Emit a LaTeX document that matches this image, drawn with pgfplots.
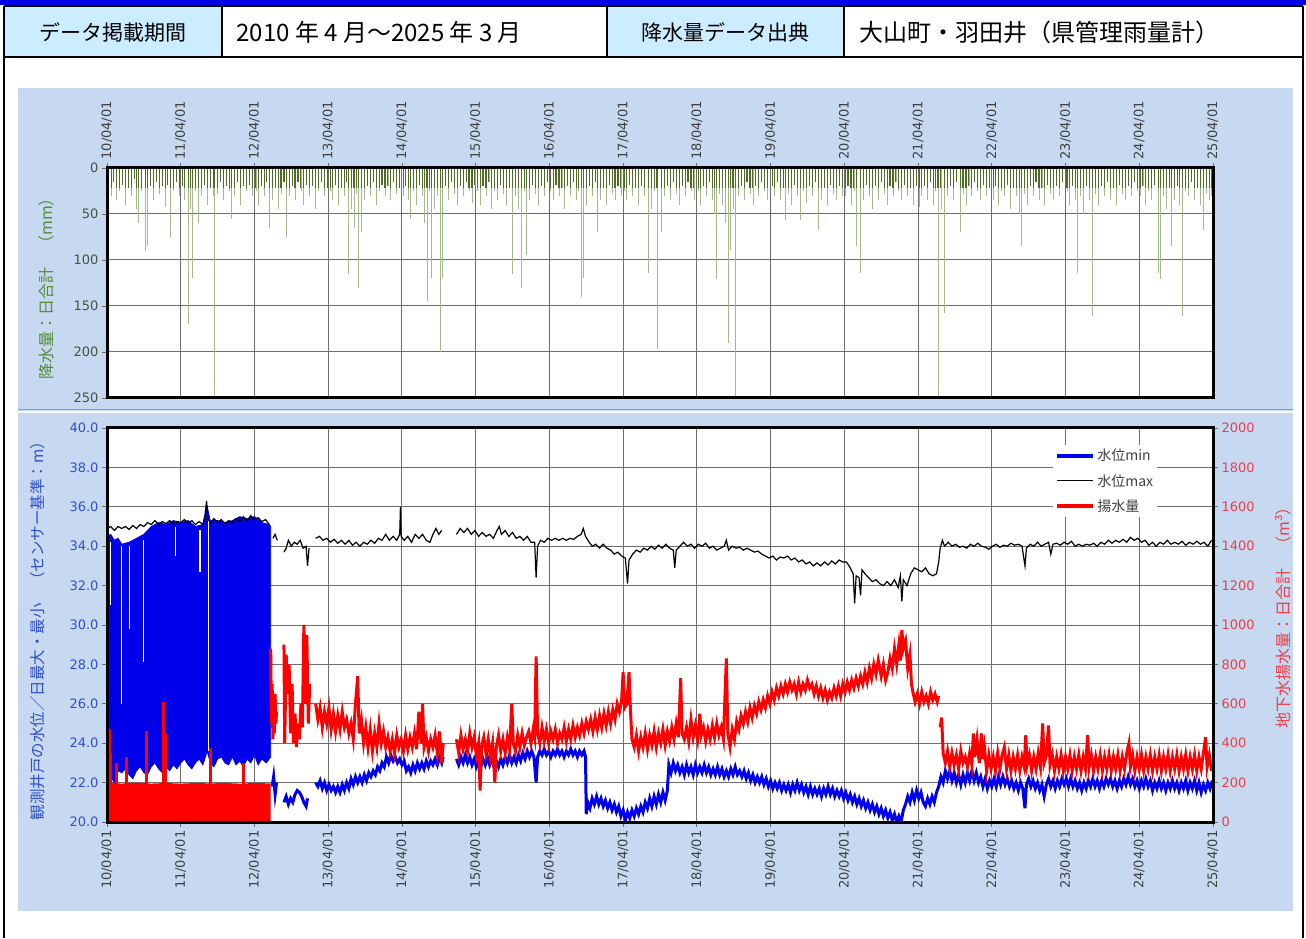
\documentclass[border=0pt]{standalone}
\usepackage{fontspec}
\setmainfont{DejaVu Sans}
\newfontfamily\cjk{Noto Sans CJK JP}
\usepackage{pgfplots}
\usepackage{pgfplotstable}
\pgfplotsset{compat=1.18}
\definecolor{hdrblue}{RGB}{204,236,255}
\definecolor{panel}{RGB}{198,217,240}
\definecolor{topband}{RGB}{0,0,230}
\definecolor{rainlight}{RGB}{165,185,140}
\definecolor{raindark}{RGB}{78,108,36}
\definecolor{gridc}{RGB}{110,110,110}
\definecolor{tickc}{RGB}{64,64,64}
\definecolor{wblue}{RGB}{0,0,235}
\definecolor{wred}{RGB}{255,0,0}
\definecolor{lblue}{RGB}{50,80,200}
\definecolor{lred}{RGB}{232,64,76}
\definecolor{lgreen}{RGB}{84,140,60}
\definecolor{tgreen}{RGB}{70,84,64}

\pgfplotstableread[row sep=\\]{t h\\
0.02 20\\0.06 30\\0.09 15\\0.13 35\\0.17 25\\0.21 18\\0.25 40\\0.29 22\\0.33 30\\0.37 12\\0.40 45\\0.43 60\\0.47 25\\0.52 90\\0.55 85\\0.59 20\\0.63 35\\0.67 15\\0.71 28\\0.75 20\\0.79 42\\0.82 18\\0.86 75\\0.90 25\\0.94 15\\0.98 30\\
1.02 20\\1.05 35\\1.10 170\\1.13 45\\1.16 120\\1.20 25\\1.24 60\\1.28 30\\1.32 18\\1.36 40\\1.40 22\\1.44 30\\1.46 250\\1.50 28\\1.54 15\\1.58 35\\1.62 20\\1.66 25\\1.69 55\\1.73 30\\1.77 15\\1.81 40\\1.85 20\\1.89 25\\1.93 18\\1.97 30\\
2.02 25\\2.05 40\\2.09 20\\2.13 30\\2.16 15\\2.20 65\\2.24 35\\2.28 22\\2.32 45\\2.36 28\\2.40 15\\2.43 75\\2.47 30\\2.51 20\\2.55 35\\2.59 15\\2.63 25\\2.67 40\\2.71 18\\2.75 30\\2.79 20\\2.83 45\\2.87 25\\2.91 15\\2.95 30\\2.99 22\\
3.03 25\\3.06 35\\3.10 18\\3.14 40\\3.18 22\\3.22 30\\3.25 15\\3.28 115\\3.31 45\\3.35 65\\3.38 28\\3.41 130\\3.45 70\\3.49 35\\3.53 20\\3.57 30\\3.61 15\\3.65 40\\3.69 25\\3.73 18\\3.77 30\\3.81 20\\3.85 35\\3.89 15\\3.93 28\\3.97 22\\
4.02 30\\4.05 20\\4.09 35\\4.12 55\\4.16 25\\4.20 40\\4.24 18\\4.28 30\\4.31 60\\4.34 145\\4.37 25\\4.40 120\\4.44 45\\4.48 30\\4.52 200\\4.55 120\\4.59 20\\4.63 35\\4.67 15\\4.71 28\\4.75 40\\4.79 20\\4.83 30\\4.87 15\\4.91 25\\4.95 38\\4.99 18\\
5.03 25\\5.06 40\\5.10 20\\5.14 30\\5.18 15\\5.22 45\\5.26 25\\5.30 35\\5.34 18\\5.38 28\\5.42 40\\5.46 22\\5.50 115\\5.54 30\\5.58 45\\5.62 130\\5.66 25\\5.69 95\\5.73 35\\5.77 18\\5.81 28\\5.85 40\\5.89 20\\5.93 30\\5.97 15\\
6.02 25\\6.05 35\\6.09 18\\6.13 30\\6.17 22\\6.21 45\\6.25 20\\6.29 30\\6.33 15\\6.37 35\\6.40 25\\6.43 140\\6.46 120\\6.50 40\\6.54 20\\6.58 30\\6.62 15\\6.65 70\\6.69 35\\6.73 22\\6.77 40\\6.81 18\\6.85 28\\6.89 35\\6.93 20\\6.97 30\\
7.02 25\\7.05 35\\7.09 18\\7.13 30\\7.17 22\\7.21 40\\7.25 20\\7.29 30\\7.34 114\\7.38 45\\7.42 25\\7.46 197\\7.52 70\\7.56 30\\7.60 20\\7.64 35\\7.68 15\\7.72 28\\7.76 40\\7.80 20\\7.84 30\\7.88 15\\7.92 25\\7.96 35\\
8.02 25\\8.05 40\\8.09 20\\8.13 30\\8.17 15\\8.21 35\\8.24 50\\8.27 121\\8.31 28\\8.35 40\\8.39 60\\8.43 190\\8.46 89\\8.49 45\\8.52 248\\8.56 30\\8.60 20\\8.64 35\\8.68 15\\8.72 28\\8.76 40\\8.80 20\\8.84 30\\8.88 15\\8.92 25\\8.96 35\\
9.02 20\\9.05 30\\9.09 15\\9.13 35\\9.17 22\\9.20 56\\9.24 28\\9.28 40\\9.32 18\\9.36 30\\9.41 56\\9.45 25\\9.49 38\\9.53 20\\9.57 30\\9.61 15\\9.65 67\\9.69 35\\9.73 22\\9.77 40\\9.81 18\\9.85 28\\9.89 35\\9.93 20\\9.97 30\\
10.02 30\\10.05 20\\10.09 40\\10.13 25\\10.17 85\\10.22 114\\10.26 35\\10.30 18\\10.34 30\\10.38 45\\10.42 20\\10.46 35\\10.50 15\\10.54 28\\10.58 40\\10.62 20\\10.66 30\\10.70 15\\10.74 25\\10.78 35\\10.82 18\\10.86 30\\10.90 22\\10.94 40\\10.98 20\\
11.02 42\\11.05 30\\11.09 20\\11.13 35\\11.17 15\\11.21 40\\11.24 25\\11.27 250\\11.31 45\\11.36 158\\11.40 30\\11.44 20\\11.48 35\\11.52 15\\11.57 70\\11.61 28\\11.65 40\\11.69 20\\11.73 30\\11.77 15\\11.81 25\\11.85 35\\11.89 18\\11.93 30\\11.97 22\\
12.02 35\\12.05 20\\12.09 40\\12.13 25\\12.17 30\\12.21 18\\12.25 45\\12.29 22\\12.33 30\\12.37 50\\12.40 85\\12.44 28\\12.48 40\\12.52 20\\12.56 30\\12.60 15\\12.64 35\\12.68 22\\12.72 40\\12.76 18\\12.80 28\\12.84 35\\12.88 20\\12.92 30\\12.96 15\\
13.02 25\\13.05 40\\13.09 20\\13.13 35\\13.16 114\\13.20 30\\13.24 50\\13.28 20\\13.32 35\\13.37 161\\13.41 28\\13.45 40\\13.49 20\\13.53 30\\13.57 15\\13.61 35\\13.65 22\\13.69 40\\13.73 18\\13.77 28\\13.81 35\\13.85 20\\13.89 30\\13.93 15\\13.97 25\\
14.02 30\\14.05 20\\14.09 40\\14.13 25\\14.17 35\\14.21 18\\14.26 114\\14.29 121\\14.33 30\\14.37 45\\14.41 22\\14.44 85\\14.48 35\\14.52 20\\14.55 40\\14.59 161\\14.63 25\\14.67 30\\14.71 15\\14.75 35\\14.79 22\\14.83 40\\14.87 67\\14.91 28\\14.95 35\\14.98 30\\
}\rain

\pgfplotsset{
  common/.style={
    scale only axis, width=1106pt, xmin=0, xmax=15, anchor=south west,
    xtick={0,1,...,15},
    xticklabels={10/04/01,11/04/01,12/04/01,13/04/01,14/04/01,15/04/01,16/04/01,17/04/01,18/04/01,19/04/01,20/04/01,21/04/01,22/04/01,23/04/01,24/04/01,25/04/01},
    grid=major,
    major grid style={draw=gridc, line width=1pt},
    axis line style={draw=black, line width=1pt},
    tick style={draw=gridc, line width=0.8pt},
    tick align=outside, major tick length=5pt,
    ticklabel style={font=\fontsize{13}{13}\selectfont},
    /pgf/number format/assume math mode=true,
  }
}

\begin{document}
\begin{tikzpicture}[x=1pt,y=1pt]
\path[use as bounding box] (0,0) rectangle (1306,938);
\fill[white] (0,0) rectangle (1306,938);
% header
\fill[topband] (0,933) rectangle (1306,938);
\fill[hdrblue] (4,881) rectangle (222,932);
\fill[hdrblue] (607,881) rectangle (844,932);
\draw[line width=2pt] (4,932) -- (1303,932);
\draw[line width=2pt] (4,881) -- (1303,881);
\draw[line width=2pt] (222,881) -- (222,932);
\draw[line width=2pt] (607,881) -- (607,932);
\draw[line width=2pt] (844,881) -- (844,932);
\draw[line width=2pt] (4,0) -- (4,932);
\draw[line width=2pt] (1303,0) -- (1303,932);
\node[font=\cjk\fontsize{21}{21}\selectfont] at (113,906) {データ掲載期間};
\node[font=\cjk\fontsize{24}{24}\selectfont, anchor=west] at (233,906) {2010 年 4 月～2025 年 3 月};
\node[font=\cjk\fontsize{21}{21}\selectfont] at (725,906) {降水量データ出典};
\node[font=\cjk\fontsize{24}{24}\selectfont, anchor=west] at (856,906) {大山町・羽田井（県管理雨量計）};
% panel
\fill[panel] (18,27) rectangle (1293,850);
\draw[gray!80, line width=1pt] (18,528) -- (1293,528);
\draw[white, line width=2pt] (18,525.5) -- (1293,525.5);
% plot backgrounds
\fill[white] (107,540) rectangle (1213,770);
\fill[white] (107,116) rectangle (1213,510);

% ---------------- top: rainfall
\begin{axis}[common, at={(107pt,540pt)}, height=230pt,
  y dir=reverse, ymin=0, ymax=250, ytick={0,50,...,250},
  xtick pos=right, xticklabel pos=right, ytick pos=left,
  xticklabel style={rotate=90, anchor=west, text=tickc},
  yticklabel style={text=tgreen}]
\addplot[ycomb, draw=rainlight, line width=0.8pt, mark=none] table[x=t,y=h]{\rain};
\addplot[ycomb, draw=raindark, line width=1.1pt, mark=none, y filter/.expression={min(\pgfmathresult,22)}] table[x=t,y=h]{\rain};
\end{axis}

% ---------------- bottom: water level
\begin{axis}[common, at={(107pt,116pt)}, height=394pt,
  ymin=20, ymax=40, ytick={20,22,...,40},
  xtick pos=left, ytick pos=left,
  xticklabel style={rotate=90, anchor=east, text=tickc},
  yticklabel style={text=lblue, /pgf/number format/.cd, fixed, fixed zerofill, precision=1}]
% daily min/max band 2010-2012
\addplot[fill=wblue, draw=wblue, line width=0.8pt] coordinates {
(0.00,34.5)(0.05,34.6)(0.10,34.3)(0.15,34.4)(0.20,34.1)(0.30,34.2)(0.40,34.4)(0.50,34.6)(0.60,35.0)(0.70,35.2)(0.80,35.1)(0.90,35.3)(1.00,35.2)(1.10,35.3)(1.20,35.0)(1.30,35.1)(1.36,36.0)(1.40,35.3)(1.50,35.3)(1.60,35.2)(1.70,35.3)(1.80,35.5)(1.90,35.4)(2.00,35.5)(2.10,35.2)(2.20,35.1)(2.22,35.0)
(2.22,23.3)(2.16,23.0)(2.10,23.2)(2.05,22.9)(2.00,23.4)(1.95,23.0)(1.90,23.2)(1.85,22.8)(1.80,23.1)(1.75,22.9)(1.70,23.3)(1.65,22.9)(1.60,23.0)(1.55,23.3)(1.50,23.2)(1.45,22.8)(1.40,23.0)(1.36,23.6)(1.30,22.9)(1.25,23.2)(1.20,23.0)(1.15,22.7)(1.10,22.9)(1.05,23.2)(1.00,23.0)(0.95,22.7)(0.90,22.9)(0.85,22.6)(0.80,22.8)(0.75,22.5)(0.70,22.7)(0.65,23.0)(0.60,22.8)(0.55,22.4)(0.50,22.5)(0.45,22.8)(0.40,22.6)(0.35,22.2)(0.30,22.4)(0.25,22.7)(0.20,22.5)(0.15,22.6)(0.10,22.0)(0.05,22.3)(0.02,21.6)(0.00,22.0)} -- cycle;
\addplot[white, line width=1.2pt] coordinates {(0.05,34.2)(0.05,31.0)};
\addplot[white, line width=1.2pt] coordinates {(0.20,34.0)(0.20,26.0)};
\addplot[white, line width=1.2pt] coordinates {(0.30,34.0)(0.30,29.8)};
\addplot[white, line width=1.2pt] coordinates {(0.50,34.3)(0.50,28.1)};
\addplot[white, line width=1.2pt] coordinates {(0.93,35.0)(0.93,33.5)};
\addplot[white, line width=1.2pt] coordinates {(1.26,34.8)(1.26,32.7)};
\addplot[white, line width=1.0pt] coordinates {(1.37,35.3)(1.37,23.6)};
% water level min
\addplot[wblue, line width=3pt] coordinates {(2.24,21.8)(2.26,22.3)(2.28,21.4)(2.30,22.0)};
\addplot[wblue, line width=3pt] coordinates {(2.40,21.0)(2.43,21.3)(2.46,20.9)(2.49,21.2)(2.52,21.0)(2.55,21.4)(2.58,21.6)(2.61,21.5)(2.64,21.3)(2.67,21.0)(2.70,20.8)(2.72,21.2)};
\addplot[wblue, line width=3pt] coordinates {
(2.83,22.0)(2.86,21.8)(2.89,22.1)(2.92,21.7)(2.95,22.0)(2.98,21.6)(3.01,21.9)(3.04,21.6)(3.07,21.8)(3.10,21.5)(3.13,21.8)(3.16,21.5)(3.19,21.9)(3.22,21.6)(3.25,22.0)(3.28,21.7)(3.31,22.2)(3.34,21.9)(3.37,22.3)(3.40,22.0)(3.43,22.3)(3.46,22.0)(3.49,22.4)(3.52,22.1)(3.55,22.5)(3.58,22.3)(3.61,22.6)(3.64,22.4)(3.67,22.8)(3.70,22.6)(3.73,23.0)(3.76,22.8)(3.79,23.3)(3.82,23.0)(3.85,23.4)(3.88,23.1)(3.91,23.3)(3.94,23.0)(3.97,23.2)(4.00,22.9)(4.03,23.1)(4.06,22.6)(4.09,22.8)(4.12,22.5)(4.15,22.9)(4.18,22.6)(4.21,23.0)(4.24,22.7)(4.27,23.0)(4.30,22.7)(4.33,23.1)(4.36,22.8)(4.39,23.1)(4.42,22.9)(4.45,23.2)(4.48,22.9)(4.51,23.3)(4.54,23.0)(4.56,23.3)};
\addplot[wblue, line width=3pt] coordinates {
(4.74,23.2)(4.77,22.9)(4.80,23.3)(4.83,23.0)(4.86,23.4)(4.89,23.0)(4.92,23.3)(4.95,22.9)(4.98,23.2)(5.01,22.8)(5.04,23.1)(5.07,22.8)(5.10,23.2)(5.13,22.9)(5.16,23.3)(5.19,22.9)(5.22,23.2)(5.25,22.8)(5.28,23.1)(5.31,22.8)(5.34,23.2)(5.37,22.9)(5.40,23.3)(5.43,23.0)(5.46,23.4)(5.49,23.0)(5.52,23.3)(5.55,23.0)(5.58,23.4)(5.61,23.1)(5.64,23.5)(5.67,23.2)(5.70,23.6)(5.73,23.3)(5.76,23.6)(5.79,23.3)(5.82,22.0)(5.84,23.3)(5.87,23.6)(5.90,23.4)(5.93,23.7)(5.96,23.4)(5.99,23.6)(6.02,23.3)(6.05,23.6)(6.08,23.4)(6.11,23.7)(6.14,23.4)(6.17,23.6)(6.20,23.3)(6.23,23.6)(6.26,23.4)(6.29,23.7)(6.32,23.4)(6.35,23.6)(6.38,23.3)(6.41,23.6)(6.44,23.4)(6.47,23.6)(6.49,23.3)
(6.50,20.4)(6.52,21.0)(6.55,20.7)(6.58,21.2)(6.61,20.9)(6.64,21.3)(6.67,20.9)(6.70,21.2)(6.73,20.8)(6.76,21.1)(6.79,20.7)(6.82,21.0)(6.85,20.6)(6.88,20.9)(6.91,20.5)(6.94,20.8)(6.97,20.3)(7.00,20.6)(7.03,20.1)(7.06,20.5)(7.09,20.2)(7.12,20.6)(7.15,20.3)(7.18,20.7)(7.21,20.4)(7.24,20.8)(7.27,20.5)(7.30,21.0)(7.33,20.7)(7.36,21.2)(7.39,20.8)(7.42,21.3)(7.45,20.9)(7.48,21.4)(7.51,21.0)(7.54,21.5)(7.57,21.1)(7.60,21.6)
(7.62,22.9)(7.65,22.5)(7.68,23.0)(7.71,22.6)(7.74,22.9)(7.77,22.5)(7.80,22.8)(7.83,22.4)(7.86,22.9)(7.89,22.5)(7.92,22.8)(7.95,22.4)(7.98,22.9)(8.01,22.5)(8.04,22.8)(8.07,22.5)(8.10,22.9)(8.13,22.5)(8.16,22.8)(8.19,22.4)(8.22,22.7)(8.25,22.4)(8.28,22.8)(8.31,22.4)(8.34,22.7)(8.37,22.3)(8.40,22.6)(8.43,22.3)(8.46,22.7)(8.49,22.4)(8.52,22.8)(8.55,22.4)(8.58,22.6)(8.61,22.3)(8.64,22.6)(8.67,22.2)(8.70,22.5)(8.73,22.1)(8.76,22.4)(8.79,22.0)(8.82,22.3)(8.85,22.0)(8.88,22.3)(8.91,21.9)(8.94,22.2)(8.97,21.8)(9.00,22.1)(9.03,21.7)(9.06,22.0)(9.09,21.7)(9.12,22.0)(9.15,21.6)(9.18,21.9)(9.21,21.6)(9.24,21.9)(9.27,21.5)(9.30,21.9)(9.33,21.6)(9.36,22.0)(9.39,21.6)(9.42,21.9)(9.45,21.5)(9.48,21.8)(9.51,21.4)(9.54,21.8)(9.57,21.4)(9.60,21.7)(9.63,21.4)(9.66,21.7)(9.69,21.3)(9.72,21.7)(9.75,21.4)(9.78,21.8)(9.81,21.4)(9.84,21.7)(9.87,21.3)(9.90,21.6)(9.93,21.3)(9.96,21.6)(9.99,21.2)
(10.02,21.5)(10.05,21.1)(10.08,21.4)(10.11,21.0)(10.14,21.3)(10.17,20.9)(10.20,21.2)(10.23,20.8)(10.26,21.1)(10.29,20.7)(10.32,21.0)(10.35,20.6)(10.38,20.9)(10.41,20.5)(10.44,20.8)(10.47,20.4)(10.50,20.7)(10.53,20.3)(10.56,20.6)(10.59,20.2)(10.62,20.5)(10.65,20.1)(10.68,20.4)(10.71,20.0)(10.74,20.3)(10.77,20.0)(10.80,20.6)(10.83,20.9)(10.86,21.3)(10.89,21.0)(10.92,21.5)(10.95,21.1)(10.98,21.6)(11.01,21.2)(11.04,21.5)(11.07,21.0)(11.10,20.8)(11.13,21.2)(11.16,20.9)(11.19,21.3)(11.22,21.0)(11.25,21.5)(11.28,21.8)(11.31,22.3)(11.34,22.0)(11.37,22.6)
(11.40,22.2)(11.43,22.6)(11.46,22.1)(11.49,22.5)(11.52,22.0)(11.55,22.4)(11.58,21.9)(11.61,22.4)(11.64,22.0)(11.67,22.5)(11.70,22.1)(11.73,22.6)(11.76,22.1)(11.79,22.5)(11.82,22.0)(11.85,22.3)(11.88,21.8)(11.91,22.2)(11.94,21.7)(11.97,22.1)(12.00,21.8)(12.03,22.2)(12.06,21.8)(12.09,22.3)(12.12,21.9)(12.15,22.3)(12.18,21.9)(12.21,22.2)(12.24,21.8)(12.27,22.1)(12.30,21.7)(12.33,22.0)(12.36,21.6)(12.39,22.0)(12.42,21.7)(12.45,20.7)(12.47,21.9)(12.50,22.2)(12.53,21.8)(12.56,22.1)(12.59,21.7)(12.62,22.0)(12.65,21.6)(12.68,21.9)(12.71,21.3)(12.74,21.9)(12.77,22.2)(12.80,21.8)(12.83,22.1)(12.86,21.7)(12.89,22.1)(12.92,21.8)(12.95,22.2)(12.98,21.9)
(13.01,22.2)(13.04,21.8)(13.07,22.2)(13.10,21.8)(13.13,22.1)(13.16,21.7)(13.19,22.0)(13.22,21.6)(13.25,22.0)(13.28,21.7)(13.31,22.1)(13.34,21.8)(13.37,22.2)(13.40,21.8)(13.43,22.1)(13.46,21.7)(13.49,22.1)(13.52,21.8)(13.55,22.2)(13.58,21.9)(13.61,22.2)(13.64,21.8)(13.67,22.1)(13.70,21.7)(13.73,22.1)(13.76,21.8)(13.79,22.2)(13.82,21.9)(13.85,22.3)(13.88,21.9)(13.91,22.2)(13.94,21.8)(13.97,22.1)(14.00,21.7)(14.03,22.1)(14.06,21.8)(14.09,22.2)(14.12,21.8)(14.15,22.1)(14.18,21.6)(14.21,22.0)(14.24,21.7)(14.27,22.1)(14.30,21.7)(14.33,22.0)(14.36,21.6)(14.39,22.0)(14.42,21.7)(14.45,22.1)(14.48,21.7)(14.51,22.0)(14.54,21.6)(14.57,22.0)(14.60,21.7)(14.63,22.1)(14.66,21.6)(14.69,22.0)(14.72,21.7)(14.75,22.1)(14.78,21.6)(14.81,22.0)(14.84,21.5)(14.87,21.9)(14.90,21.6)(14.93,22.0)(14.96,21.7)(14.99,22.1)};
% water level max
\addplot[black, line width=1.2pt] coordinates {
(0.00,34.9)(0.05,35.0)(0.10,34.8)(0.15,35.0)(0.20,34.9)(0.25,35.0)(0.30,34.85)(0.35,35.05)(0.40,34.9)(0.45,35.1)(0.50,35.0)(0.55,35.2)(0.60,35.1)(0.65,35.3)(0.70,35.1)(0.75,35.25)(0.80,35.15)(0.85,35.3)(0.90,35.1)(0.95,35.25)(1.00,35.2)(1.05,35.35)(1.10,35.15)(1.15,35.3)(1.20,35.1)(1.25,35.25)(1.30,35.1)(1.33,35.6)(1.35,36.3)(1.37,35.4)(1.40,35.2)(1.45,35.4)(1.50,35.2)(1.55,35.35)(1.60,35.15)(1.65,35.3)(1.70,35.2)(1.75,35.4)(1.80,35.25)(1.85,35.5)(1.90,35.3)(1.95,35.55)(2.00,35.35)(2.05,35.45)(2.10,35.25)(2.15,35.35)(2.20,35.1)};
\addplot[black, line width=1.2pt] coordinates {(2.25,34.4)(2.28,34.6)(2.31,34.3)};
\addplot[black, line width=1.2pt] coordinates {(2.40,33.7)(2.43,33.9)(2.46,34.3)(2.50,34.0)(2.54,34.2)(2.58,34.1)(2.62,34.3)(2.66,33.9)(2.70,34.0)(2.72,33.0)(2.74,33.9)};
\addplot[black, line width=1.2pt] coordinates {
(2.83,34.4)(2.88,34.5)(2.93,34.3)(2.98,34.4)(3.03,34.2)(3.08,34.35)(3.13,34.15)(3.18,34.3)(3.23,34.1)(3.28,34.3)(3.33,34.05)(3.38,34.2)(3.43,34.0)(3.48,34.2)(3.53,34.1)(3.58,34.3)(3.63,34.15)(3.68,34.4)(3.73,34.3)(3.78,34.6)(3.83,34.3)(3.88,34.5)(3.93,34.3)(3.97,34.6)(3.98,36.0)(3.99,34.5)(4.03,34.3)(4.08,34.5)(4.13,34.2)(4.18,34.6)(4.23,34.4)(4.28,34.6)(4.33,34.3)(4.38,34.2)(4.42,34.6)(4.46,34.9)(4.50,34.6)(4.54,34.8)};
\addplot[black, line width=1.2pt] coordinates {
(4.74,34.6)(4.79,34.9)(4.84,34.7)(4.89,34.9)(4.94,34.6)(4.99,34.8)(5.04,34.5)(5.09,34.7)(5.14,34.5)(5.19,34.6)(5.24,34.4)(5.29,34.8)(5.32,35.0)(5.35,34.6)(5.40,34.8)(5.45,34.5)(5.50,34.7)(5.55,34.4)(5.60,34.5)(5.65,34.3)(5.70,34.5)(5.75,34.2)(5.80,34.2)(5.82,32.4)(5.84,34.0)(5.88,34.3)(5.93,34.2)(5.98,34.4)(6.03,34.3)(6.08,34.4)(6.13,34.3)(6.18,34.4)(6.23,34.3)(6.28,34.4)(6.33,34.35)(6.38,34.5)(6.43,34.6)(6.46,34.9)(6.49,34.5)(6.54,34.2)(6.58,34.0)(6.63,34.1)(6.68,33.9)(6.73,34.1)(6.78,33.9)(6.83,33.8)(6.88,33.6)(6.93,33.7)(6.98,33.5)(7.03,33.4)(7.06,32.1)(7.08,33.3)(7.13,33.6)(7.18,33.8)(7.23,33.7)(7.28,33.9)(7.33,33.8)(7.38,34.0)(7.43,33.85)(7.48,34.05)(7.53,33.9)(7.58,34.1)(7.63,33.9)(7.68,33.8)(7.70,32.9)(7.72,33.8)(7.77,34.0)(7.82,34.2)(7.87,34.0)(7.92,34.1)(7.97,33.9)(8.02,34.1)(8.07,34.0)(8.12,34.15)(8.17,33.9)(8.22,34.0)(8.27,33.8)(8.32,33.9)(8.37,34.0)(8.40,34.3)(8.43,33.8)(8.48,34.0)(8.53,33.9)(8.58,33.95)(8.63,33.8)(8.68,33.9)(8.73,33.8)(8.78,33.7)(8.83,33.75)(8.88,33.6)(8.93,33.5)(8.98,33.4)(9.03,33.5)(9.08,33.3)(9.13,33.45)(9.18,33.4)(9.23,33.5)(9.28,33.3)(9.33,33.4)(9.38,33.2)(9.43,33.3)(9.48,33.1)(9.53,33.2)(9.58,33.0)(9.63,33.15)(9.68,33.0)(9.73,33.2)(9.78,33.05)(9.83,33.25)(9.88,33.1)(9.93,33.3)(9.98,33.2)
(10.03,33.2)(10.08,32.9)(10.12,32.6)(10.14,31.1)(10.16,32.5)(10.20,32.4)(10.22,31.5)(10.24,32.8)(10.28,32.6)(10.33,32.4)(10.38,32.2)(10.43,32.3)(10.48,32.1)(10.53,32.0)(10.58,32.2)(10.63,32.0)(10.68,32.3)(10.73,31.9)(10.76,32.5)(10.78,31.2)(10.80,32.3)(10.85,32.0)(10.90,32.6)(10.95,32.9)(11.00,32.8)(11.05,32.7)(11.10,32.9)(11.15,32.6)(11.20,32.5)(11.25,32.6)(11.28,33.2)(11.30,33.9)(11.33,34.3)(11.36,34.0)(11.41,34.2)(11.46,34.0)(11.51,34.1)(11.56,33.95)(11.61,34.0)(11.66,33.9)(11.71,34.1)(11.76,34.0)(11.81,34.15)(11.86,34.0)(11.91,33.95)(11.96,33.85)
(12.01,34.0)(12.06,34.1)(12.11,33.95)(12.16,34.05)(12.21,34.0)(12.26,34.15)(12.31,34.05)(12.36,34.1)(12.41,34.0)(12.45,33.0)(12.47,33.9)(12.52,34.1)(12.57,34.0)(12.62,34.2)(12.67,34.0)(12.72,34.1)(12.77,34.2)(12.80,33.6)(12.83,34.1)(12.88,34.15)(12.93,34.05)(12.98,34.2)(13.03,34.1)(13.08,34.25)(13.13,34.0)(13.18,34.1)(13.23,34.0)(13.28,34.1)(13.33,34.05)(13.38,34.15)(13.43,34.0)(13.48,34.2)(13.53,34.1)(13.58,34.3)(13.63,34.15)(13.68,34.3)(13.73,34.2)(13.78,34.35)(13.83,34.2)(13.88,34.45)(13.93,34.3)(13.98,34.4)(14.03,34.2)(14.08,34.3)(14.13,34.05)(14.18,34.2)(14.23,34.0)(14.28,34.2)(14.33,34.1)(14.38,34.3)(14.43,34.1)(14.48,34.2)(14.53,34.1)(14.58,34.25)(14.63,34.05)(14.68,34.2)(14.73,34.1)(14.78,34.25)(14.83,34.1)(14.88,34.2)(14.93,34.0)(14.98,34.3)};
\end{axis}

% ---------------- bottom: pumping volume (right axis)
\begin{axis}[scale only axis, width=1106pt, height=394pt, at={(107pt,116pt)}, anchor=south west,
  xmin=0, xmax=15, ymin=0, ymax=2000, ytick={0,200,...,2000},
  axis x line=none, axis y line*=right, axis line style={draw=none},
  tick style={draw=gridc, line width=0.8pt}, tick align=outside, major tick length=5pt,
  ticklabel style={font=\fontsize{13}{13}\selectfont},
  /pgf/number format/assume math mode=true,
  yticklabel style={text=lred, /pgf/number format/.cd, 1000 sep={}},
  legend style={at={(0.855,0.957)}, anchor=north west, draw=none, fill=white,
    font=\cjk\fontsize{14}{14}\selectfont, text=tickc, row sep=8pt, inner sep=2pt},
  legend cell align=left,
  legend image code/.code={\draw[#1] (0pt,0pt) -- (36pt,0pt);}]
\addlegendimage{draw=wblue, line width=4pt}\addlegendentry{水位min}
\addlegendimage{draw=black, line width=1pt}\addlegendentry{水位max}
\addlegendimage{draw=wred, line width=4.5pt}\addlegendentry{揚水量}
\addplot[forget plot, fill=wred, draw=none] coordinates {(0,0)(0,200)(0.2,195)(0.4,200)(0.6,195)(0.8,198)(1.0,195)(1.2,198)(1.4,196)(1.6,198)(1.8,195)(2.0,198)(2.22,196)(2.22,0)} -- cycle;
\addplot[forget plot, ycomb, draw=wred, line width=3pt, mark=none] coordinates {(0.005,480)(0.02,420)(0.035,470)(0.05,350)(0.13,300)(0.26,330)(0.53,460)(0.76,610)(0.79,450)(1.40,376)(1.85,300)};
\addplot[forget plot, wred, line width=3pt] coordinates {(2.22,880)(2.23,500)(2.24,700)(2.25,420)(2.26,600)(2.27,450)(2.28,650)(2.29,500)(2.30,560)};
\addplot[forget plot, wred, line width=3pt] coordinates {(2.40,900)(2.41,400)(2.43,850)(2.45,650)(2.47,800)(2.49,450)(2.51,700)(2.53,400)(2.55,550)(2.57,380)(2.59,500)(2.61,420)(2.63,600)(2.65,480)(2.67,1000)(2.69,600)(2.71,950)(2.73,500)(2.75,700)};
\addplot[forget plot, wred, line width=3pt] coordinates {
(2.83,600)(2.86,520)(2.89,580)(2.92,480)(2.95,560)(2.98,500)(3.01,580)(3.04,470)(3.07,550)(3.10,460)(3.13,540)(3.16,470)(3.19,560)(3.22,480)(3.25,520)(3.28,450)(3.31,500)(3.34,420)(3.37,600)(3.40,740)(3.42,450)(3.45,520)(3.48,400)(3.51,480)(3.54,380)(3.57,470)(3.60,360)(3.63,450)(3.66,380)(3.69,500)(3.72,400)(3.75,460)(3.78,380)(3.81,430)(3.84,360)(3.87,420)(3.90,350)(3.93,440)(3.96,380)(3.99,420)(4.02,360)(4.05,440)(4.08,370)(4.11,430)(4.14,380)(4.17,450)(4.20,370)(4.23,560)(4.26,400)(4.28,600)(4.30,380)(4.33,430)(4.36,360)(4.39,420)(4.42,380)(4.45,440)(4.48,350)(4.51,460)(4.54,300)(4.56,400)};
\addplot[forget plot, wred, line width=3pt] coordinates {
(4.74,420)(4.77,350)(4.80,440)(4.83,370)(4.86,420)(4.89,360)(4.92,450)(4.95,380)(4.98,430)(5.01,340)(5.04,400)(5.06,160)(5.08,380)(5.11,430)(5.14,350)(5.17,420)(5.20,330)(5.23,400)(5.26,200)(5.28,380)(5.31,440)(5.34,360)(5.37,420)(5.40,350)(5.43,430)(5.46,370)(5.49,600)(5.51,400)(5.54,360)(5.57,440)(5.60,380)(5.63,450)(5.66,390)(5.69,430)(5.72,460)(5.75,400)(5.78,470)(5.80,430)(5.82,840)(5.84,450)(5.87,400)(5.90,480)(5.93,410)(5.96,470)(5.99,400)(6.02,460)(6.05,420)(6.08,470)(6.11,400)(6.14,450)(6.17,420)(6.20,480)(6.23,410)(6.26,470)(6.29,420)(6.32,490)(6.35,430)(6.38,480)(6.41,440)(6.44,500)(6.47,450)(6.50,510)(6.53,470)(6.56,520)(6.59,460)(6.62,530)(6.65,470)(6.68,540)(6.71,480)(6.74,550)(6.77,490)(6.80,560)(6.83,500)(6.86,570)(6.89,520)(6.92,600)(6.95,560)(6.98,620)(7.00,760)(7.02,580)(7.05,600)(7.08,760)(7.10,560)(7.12,420)(7.15,380)(7.18,440)(7.21,360)(7.24,430)(7.27,380)(7.30,450)(7.33,370)(7.36,440)(7.39,390)(7.42,460)(7.45,380)(7.48,450)(7.51,400)(7.54,470)(7.57,390)(7.60,460)(7.63,410)(7.66,480)(7.69,420)(7.72,500)(7.75,430)(7.78,730)(7.80,450)(7.83,420)(7.86,480)(7.89,410)(7.92,520)(7.95,430)(7.98,490)
(8.01,420)(8.04,550)(8.06,440)(8.09,480)(8.12,410)(8.15,470)(8.18,420)(8.21,490)(8.24,430)(8.27,500)(8.30,440)(8.33,480)(8.36,420)(8.40,830)(8.42,450)(8.45,380)(8.48,470)(8.51,420)(8.54,510)(8.57,470)(8.60,540)(8.63,500)(8.66,560)(8.69,510)(8.72,580)(8.75,530)(8.78,590)(8.81,550)(8.84,610)(8.87,570)(8.90,620)(8.93,580)(8.96,640)(8.99,600)(9.02,660)(9.05,620)(9.08,680)(9.11,640)(9.14,690)(9.17,650)(9.20,700)(9.23,660)(9.26,710)(9.29,670)(9.32,700)(9.35,650)(9.38,710)(9.41,660)(9.44,700)(9.47,670)(9.50,720)(9.53,680)(9.56,700)(9.59,650)(9.62,690)(9.65,640)(9.68,680)(9.71,630)(9.74,670)(9.77,620)(9.80,660)(9.83,630)(9.86,680)(9.89,640)(9.92,690)(9.95,640)(9.98,700)
(10.01,660)(10.04,710)(10.07,670)(10.10,720)(10.13,680)(10.16,730)(10.19,690)(10.22,740)(10.25,700)(10.28,760)(10.31,710)(10.34,780)(10.37,730)(10.40,800)(10.43,750)(10.46,820)(10.48,780)(10.50,740)(10.53,800)(10.56,720)(10.59,760)(10.62,830)(10.65,780)(10.68,880)(10.71,800)(10.74,900)(10.76,820)(10.78,975)(10.80,880)(10.83,920)(10.86,780)(10.89,850)(10.91,700)(10.93,660)(10.96,610)(10.99,650)(11.02,600)(11.05,660)(11.08,610)(11.11,640)(11.14,600)(11.17,660)(11.20,620)(11.23,650)(11.26,610)(11.28,640)};
\addplot[forget plot, wred, line width=3pt] coordinates {
(11.30,480)(11.32,530)(11.34,350)(11.37,300)(11.40,360)(11.43,280)(11.46,350)(11.49,290)(11.52,340)(11.55,270)(11.58,360)(11.61,300)(11.64,330)(11.67,280)(11.70,350)(11.73,290)(11.75,450)(11.77,330)(11.80,420)(11.83,300)(11.86,450)(11.88,320)(11.90,380)(11.93,260)(11.96,340)(11.99,270)(12.02,330)(12.05,260)(12.08,350)(12.11,270)(12.14,340)(12.17,380)(12.20,270)(12.23,340)(12.26,260)(12.29,330)(12.32,270)(12.35,340)(12.38,260)(12.41,330)(12.44,280)(12.46,440)(12.48,290)(12.51,340)(12.54,260)(12.57,330)(12.60,270)(12.63,350)(12.66,280)(12.69,500)(12.71,300)(12.74,340)(12.77,490)(12.79,290)(12.82,340)(12.85,260)(12.88,330)(12.91,270)(12.94,340)(12.97,260)
(13.00,330)(13.03,270)(13.06,340)(13.09,260)(13.12,330)(13.15,270)(13.18,340)(13.21,260)(13.24,330)(13.27,270)(13.30,440)(13.32,280)(13.35,340)(13.38,260)(13.41,330)(13.44,270)(13.47,340)(13.50,260)(13.53,330)(13.56,270)(13.59,340)(13.62,260)(13.65,330)(13.68,270)(13.71,340)(13.74,260)(13.77,330)(13.80,270)(13.83,350)(13.86,400)(13.88,280)(13.91,340)(13.94,260)(13.97,330)(14.00,270)(14.03,340)(14.06,260)(14.09,330)(14.12,270)(14.15,340)(14.18,260)(14.21,330)(14.24,270)(14.27,340)(14.30,260)(14.33,330)(14.36,270)(14.39,340)(14.42,260)(14.45,330)(14.48,270)(14.51,340)(14.54,260)(14.57,330)(14.60,270)(14.63,340)(14.66,260)(14.69,330)(14.72,270)(14.75,340)(14.78,260)(14.81,330)(14.84,270)(14.87,350)(14.90,430)(14.92,280)(14.95,340)(14.98,260)};
\end{axis}

% frames
\draw[line width=3pt] (107,540) rectangle (1213,770);
\draw[line width=3pt] (107,116) rectangle (1213,510);
% axis titles
\node[rotate=90, text=lgreen, font=\cjk\fontsize{16}{16}\selectfont] at (46,653) {降水量：日合計　（mm）};
\node[rotate=90, text=lblue, font=\cjk\fontsize{15.5}{15.5}\selectfont] at (38,311) {観測井戸の水位／日最大・最小　（センサー基準：m）};
\node[rotate=90, text=lred, font=\cjk\fontsize{16}{16}\selectfont] at (1283,324) {地下水揚水量：日合計　（m³）};
\end{tikzpicture}
\end{document}
